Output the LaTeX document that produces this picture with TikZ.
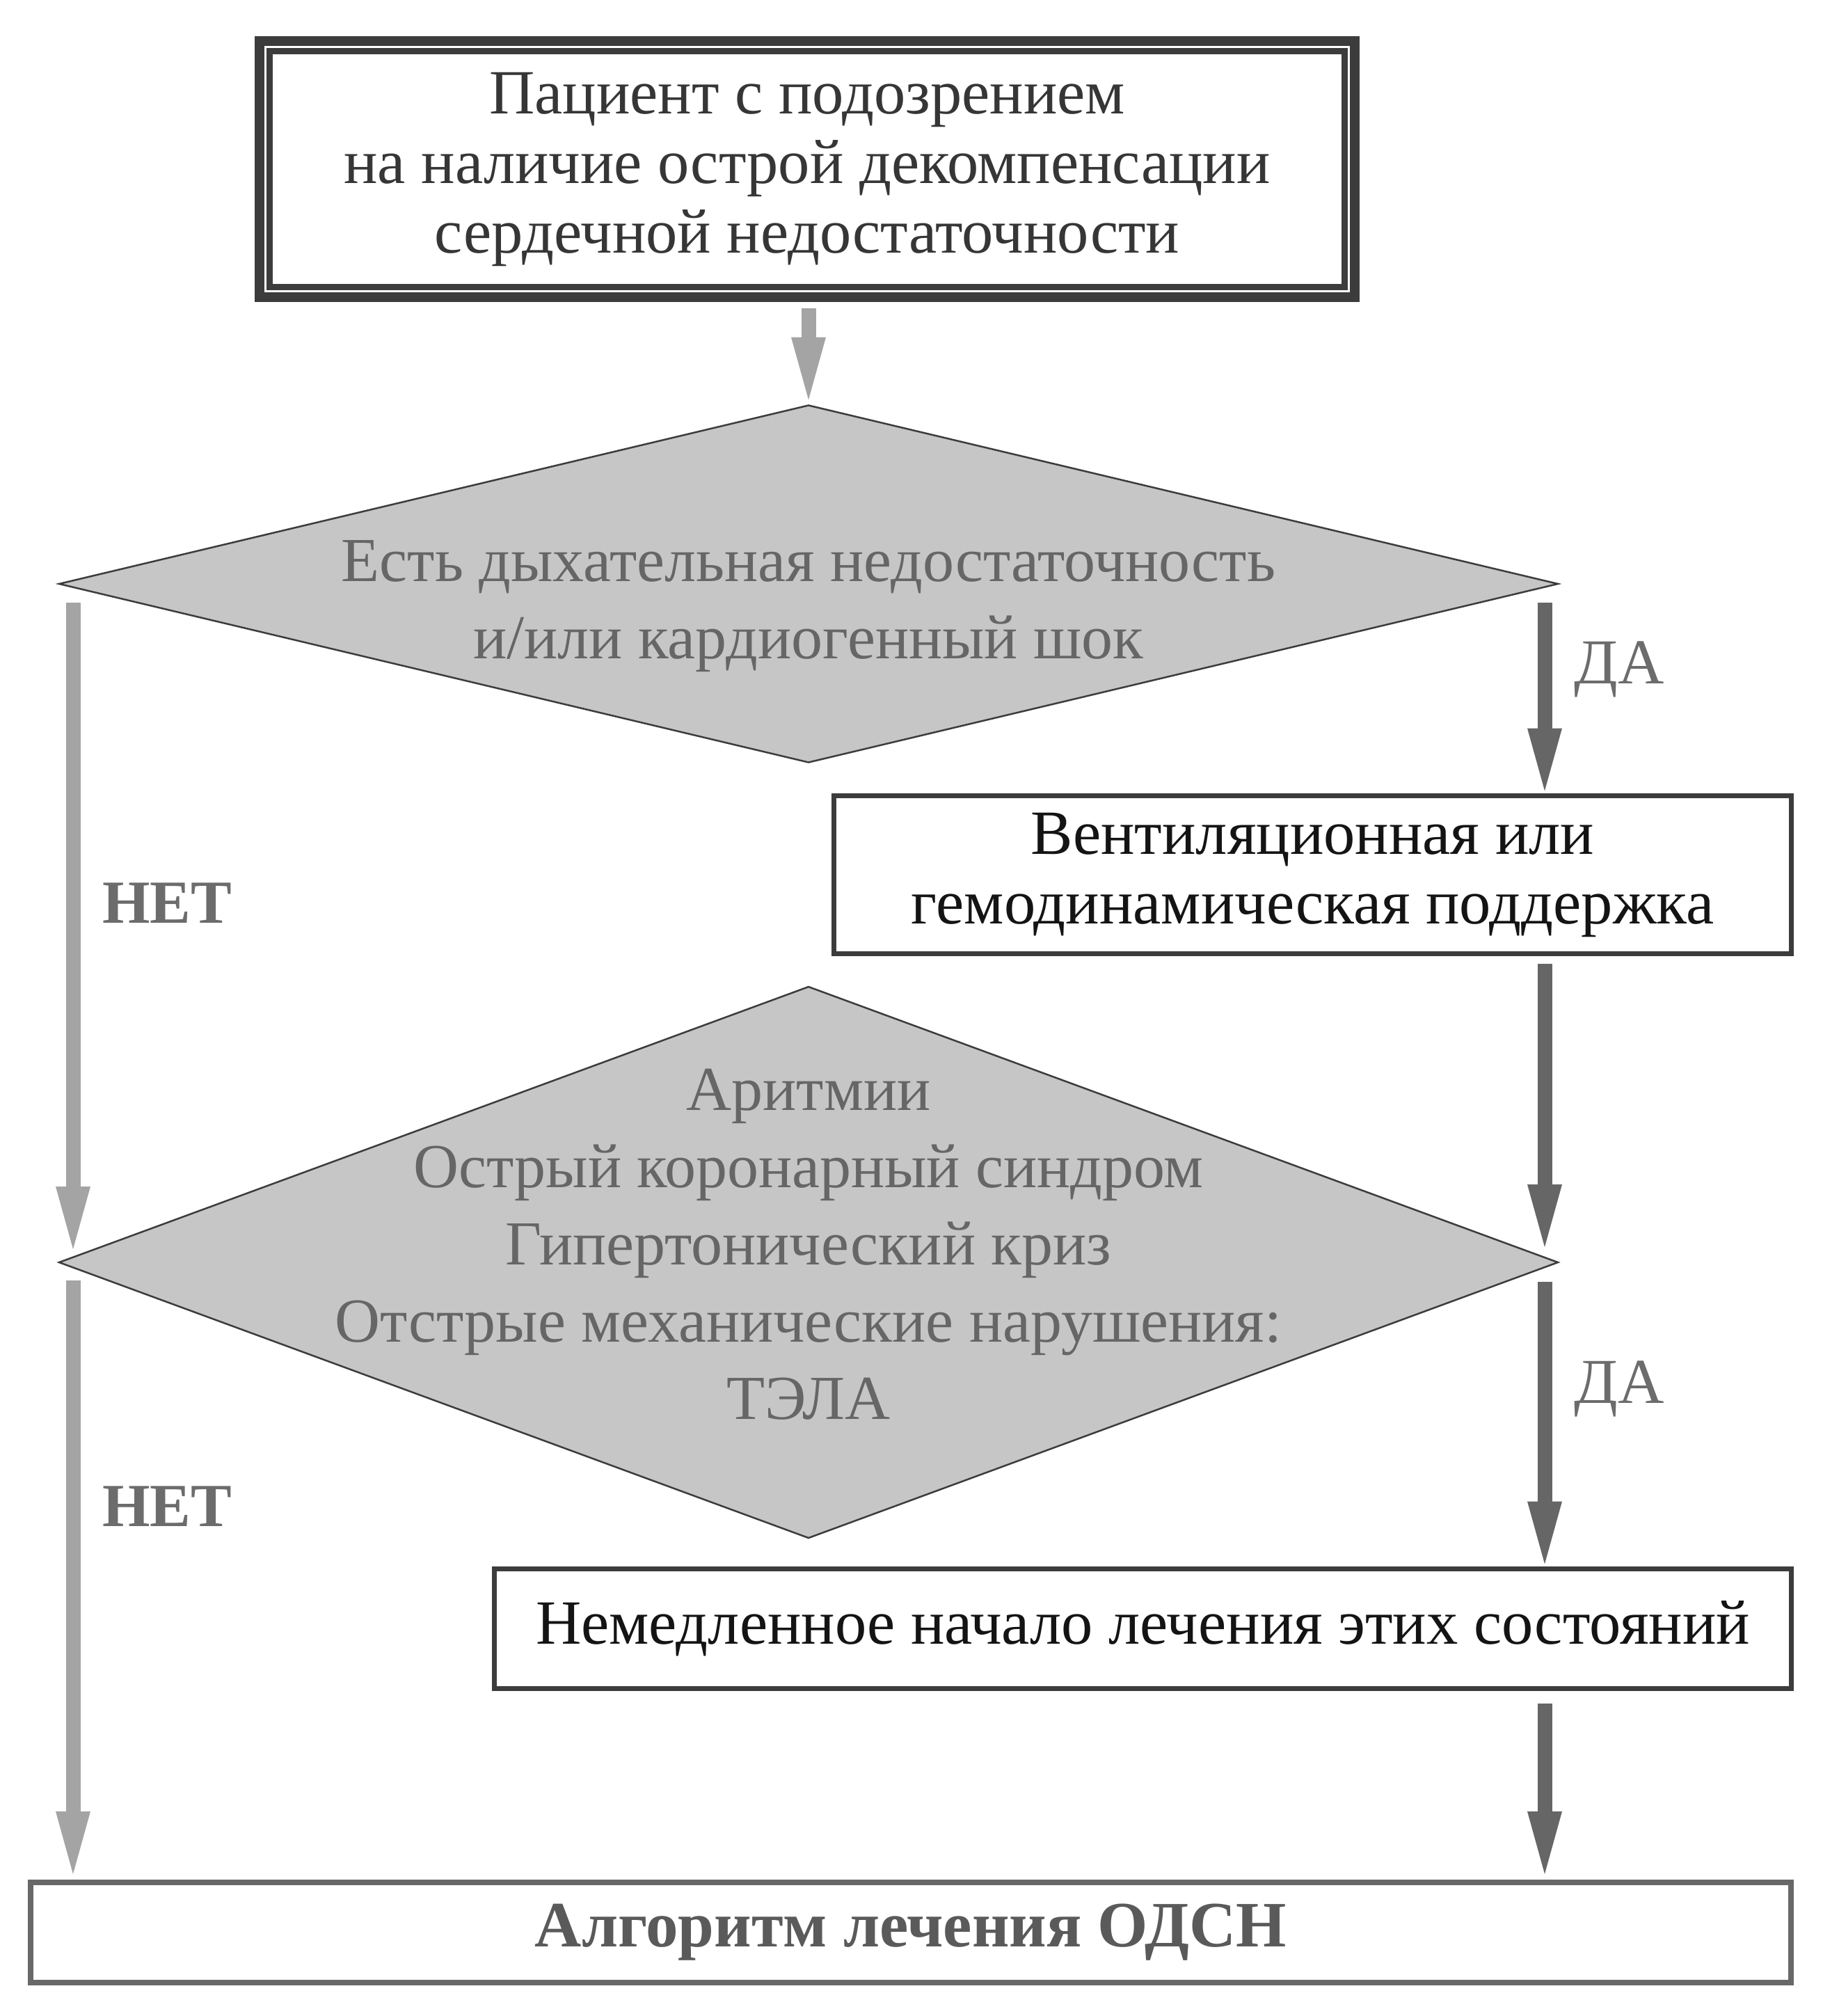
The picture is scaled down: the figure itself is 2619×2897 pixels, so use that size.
\documentclass[tikz,border=0pt]{standalone}
\usepackage{fontspec}
\setmainfont{Liberation Serif}
\usetikzlibrary{arrows.meta,shapes.geometric,calc}
\definecolor{lgray}{HTML}{A4A4A4}
\definecolor{dgray}{HTML}{666666}
\definecolor{dkline}{HTML}{3C3C3C}
\definecolor{diafill}{HTML}{C6C6C6}
\definecolor{diatxt}{HTML}{666666}
\definecolor{toptxt}{HTML}{363636}
\definecolor{labtxt}{HTML}{6C6C6C}
\definecolor{botline}{HTML}{686868}
\definecolor{bottxt}{HTML}{5A5A5A}
\begin{document}
\begin{tikzpicture}[x=1pt,y=-1pt,
  every node/.style={inner sep=0pt,outer sep=0pt},
  topbox/.style={draw=dkline,line width=14pt,align=center,text=toptxt,
    font=\fontsize{90.5}{100}\selectfont},
  dia/.style={diamond,draw=dkline,line width=2.5pt,fill=diafill},
  diatext/.style={align=center,text=diatxt,font=\fontsize{90}{111}\selectfont},
  box/.style={draw=dkline,line width=7pt,align=center,text=black!92,
    font=\fontsize{90.5}{100}\selectfont},
  botbox/.style={draw=botline,line width=8pt,align=center,text=bottxt,
    font=\fontsize{93}{100}\selectfont\bfseries},
  lab/.style={text=labtxt,font=\fontsize{92}{100}\selectfont},
  lightarr/.style={draw=lgray,line width=21pt,
    -{Triangle[length=90pt,width=50pt,line width=0pt]}},
  darkarr/.style={draw=dgray,line width=21pt,
    -{Triangle[length=90pt,width=50pt,line width=0pt]}}]
\fill[white] (0,0) rectangle (2619,2897);
\useasboundingbox (0,0) rectangle (2619,2897);
\coordinate (lc) at (105,0);
\coordinate (rc) at (2220,0);
% nodes
\node[topbox,minimum width=1574pt,minimum height=368pt] (top) at (1160,243)
  {Пациент с подозрением\\на наличие острой декомпенсации\\сердечной недостаточности};
\draw[dkline,line width=9pt] ($(top.north west)+(14.5,14.5)$) rectangle ($(top.south east)+(-14.5,-14.5)$);
\node[dia,minimum width=2154pt,minimum height=513pt] (d1) at (1162,839) {};
\node[diatext] (t1) at (1162,871) {Есть дыхательная недостаточность\\и/или кардиогенный шок};
\node[box,minimum width=1376pt,minimum height=227pt] (b2) at (1886.5,1257)
  {Вентиляционная или\\гемодинамическая поддержка};
\node[dia,minimum width=2154pt,minimum height=792pt] (d2) at (1162,1814) {};
\node[diatext] (t2) at (1162,1788) {Аритмии\\Острый коронарный синдром\\Гипертонический криз\\Отстрые механические нарушения:\\ТЭЛА};
\node[box,minimum width=1864pt,minimum height=172pt] (b3) at (1642.5,2340.5)
  {Немедленное начало лечения этих состояний};
\node[botbox,minimum width=2530pt,minimum height=144pt] (bot) at (1309,2777)
  {Алгоритм лечения ОДСН};
% labels
\node[lab] (da1) at (2327,962) {ДА};
\node[lab] (da2) at (2327,1996) {ДА};
\node[lab,font=\fontsize{88}{100}\selectfont\bfseries] (net1) at (240,1298) {НЕТ};
\node[lab,font=\fontsize{88}{100}\selectfont\bfseries] (net2) at (240,2165) {НЕТ};
% connectors
\draw[lightarr] ($(top.south)+(2,16)$) -- ($(d1.north)+(0,-8)$);
\draw[darkarr] ($(d1.east -| rc)+(0,27)$) -- ($(b2.north -| rc)+(0,-7)$);
\draw[darkarr] ($(b2.south -| rc)+(0,14)$) -- ($(d2.east -| rc)+(0,-22)$);
\draw[darkarr] ($(d2.east -| rc)+(0,28)$) -- ($(b3.north -| rc)+(0,-7)$);
\draw[darkarr] ($(b3.south -| rc)+(0,21)$) -- ($(bot.north -| rc)+(0,-12)$);
\draw[lightarr] ($(d1.west -| lc)+(0,27)$) -- ($(d2.west -| lc)+(0,-19)$);
\draw[lightarr] ($(d2.west -| lc)+(0,26)$) -- ($(bot.north -| lc)+(0,-12)$);
\end{tikzpicture}
\end{document}
